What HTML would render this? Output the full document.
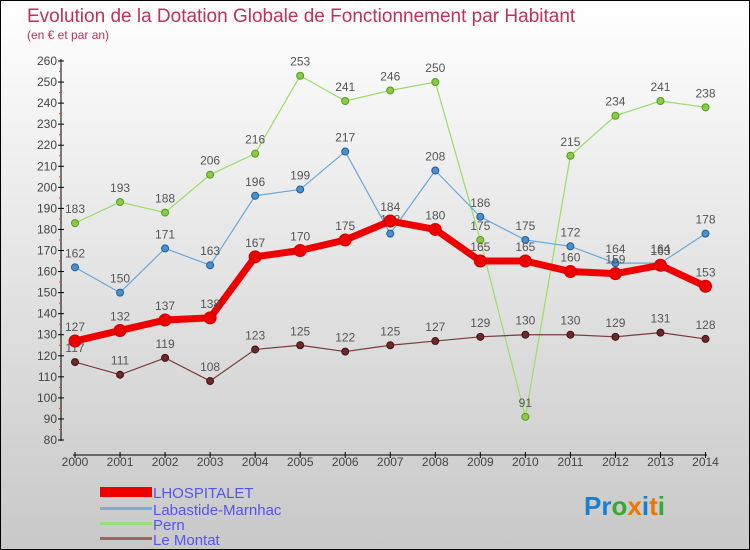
<!DOCTYPE html>
<html><head><meta charset="utf-8"><style>
body{margin:0}
svg{display:block;font-family:"Liberation Sans",sans-serif}
</style></head><body>
<svg id="chart" width="750" height="550">
<defs><linearGradient id="bg" x1="0" y1="0" x2="0" y2="1"><stop offset="0" stop-color="#ffffff"/><stop offset="1" stop-color="#c8c8c8"/></linearGradient></defs>
<rect x="0.5" y="0.5" width="749" height="549" fill="url(#bg)" stroke="#000"/>
<text x="27" y="22" font-size="19" fill="#c0305a">Evolution de la Dotation Globale de Fonctionnement par Habitant</text>
<text x="27" y="39" font-size="12" fill="#c0305a">(en € et par an)</text>
<g id="axes"></g>
<g id="series"></g>
<g id="legend">
<rect x="100" y="487" width="52" height="10" fill="#ee0000"/>
<text x="153" y="498" font-size="15" fill="#5555ee">LHOSPITALET</text>
<rect x="100" y="507" width="52" height="3" fill="#7aaed6"/>
<text x="153" y="515" font-size="15" fill="#5555ee">Labastide-Marnhac</text>
<rect x="100" y="522" width="52" height="3" fill="#99dd77"/>
<text x="153" y="530" font-size="15" fill="#5555ee">Pern</text>
<rect x="100" y="537" width="52" height="3" fill="#996666"/>
<text x="153" y="545" font-size="15" fill="#5555ee">Le Montat</text>
</g>
<g font-size="26" font-weight="bold">
<text x="584" y="515"><tspan fill="#1a7fd0">Pr</tspan><tspan fill="#33aa33">o</tspan><tspan fill="#ee7700">x</tspan><tspan fill="#1a7fd0">i</tspan><tspan fill="#ee7700">t</tspan><tspan fill="#33aa33">i</tspan></text>
</g>
</svg>
<script>
const years=[2000,2001,2002,2003,2004,2005,2006,2007,2008,2009,2010,2011,2012,2013,2014];
const yTicks=[80,90,100,110,120,130,140,150,160,170,180,190,200,210,220,230,240,250,260];
const lhospitalet=[127,132,137,138,167,170,175,184,180,165,165,160,159,163,153];
const labastide=[162,150,171,163,196,199,217,178,208,186,175,172,164,164,178];
const pern=[183,193,188,206,216,253,241,246,250,175,91,215,234,241,238];
const montat=[117,111,119,108,123,125,122,125,127,129,130,130,129,131,128];
const NS="http://www.w3.org/2000/svg";
function xS(i){return 75+i*(705.5-75)/(years.length-1);}
function yS(v){return 61+(260-v)*(440-61)/180;}
function mk(tag,attrs,parent){const e=document.createElementNS(NS,tag);for(const k in attrs)e.setAttribute(k,attrs[k]);parent.appendChild(e);return e;}
const axes=document.getElementById('axes');
let a=mk('line',{x1:61,y1:59,x2:61,y2:441,stroke:'#000'},axes);


yTicks.forEach((t,i)=>{
  const y=yS(t);
  let l=mk('line',{x1:58,y1:y,x2:64,y2:y,stroke:'#000'},axes);
  
  
  let tx=mk('text',{x:57,y:y+4,'font-size':12,'text-anchor':'end',fill:'#444'},axes);
  tx.textContent=t;
  
  
  if(i<yTicks.length-1){
    let m=mk('line',{x1:59,y1:y-10.5,x2:61,y2:y-10.5,stroke:'#e33'},axes);
    
    
  }
});
a=mk('line',{x1:73,y1:455,x2:707,y2:455,stroke:'#000'},axes);


years.forEach((yr,i)=>{
  const x=xS(i);
  let l=mk('line',{x1:x,y1:452,x2:x,y2:458,stroke:'#000'},axes);
  
  
  let tx=mk('text',{x:x,y:466,'font-size':12,'text-anchor':'middle',fill:'#444'},axes);
  tx.textContent=yr;
  
  
});
const sg=document.getElementById('series');
function draw(vals,name,color,w,r,dot,dotStroke){
  const g=mk('g',{},sg);
  
  
  const pts=vals.map((v,i)=>xS(i)+','+yS(v)).join(' ');
  let pl=mk('polyline',{points:pts,fill:'none',stroke:color,'stroke-width':w,'stroke-linejoin':'round'},g);
  
  
  vals.forEach((v,i)=>{
    let c=mk('circle',{cx:xS(i),cy:yS(v),r:r,fill:dot,stroke:dotStroke,'stroke-width':1},g);
    
    
    let t=mk('text',{x:xS(i),y:yS(v)-10,'font-size':12,'text-anchor':'middle',fill:'#555'},g);
    t.textContent=v;
    
    
  });
}
draw(pern,'pern','#99dd66',1.2,3.5,'#88cc44','#559922');
draw(labastide,'labastide','#6aa8d8',1.2,3.5,'#4a90d0','#2a5a90');
draw(montat,'le-montat','#7a3a3a',1.2,3.5,'#6a2a2a','#441111');
draw(lhospitalet,'lhospitalet','#ee0000',7,6,'#ee0000','#cc0000');
</script>
</body></html>
